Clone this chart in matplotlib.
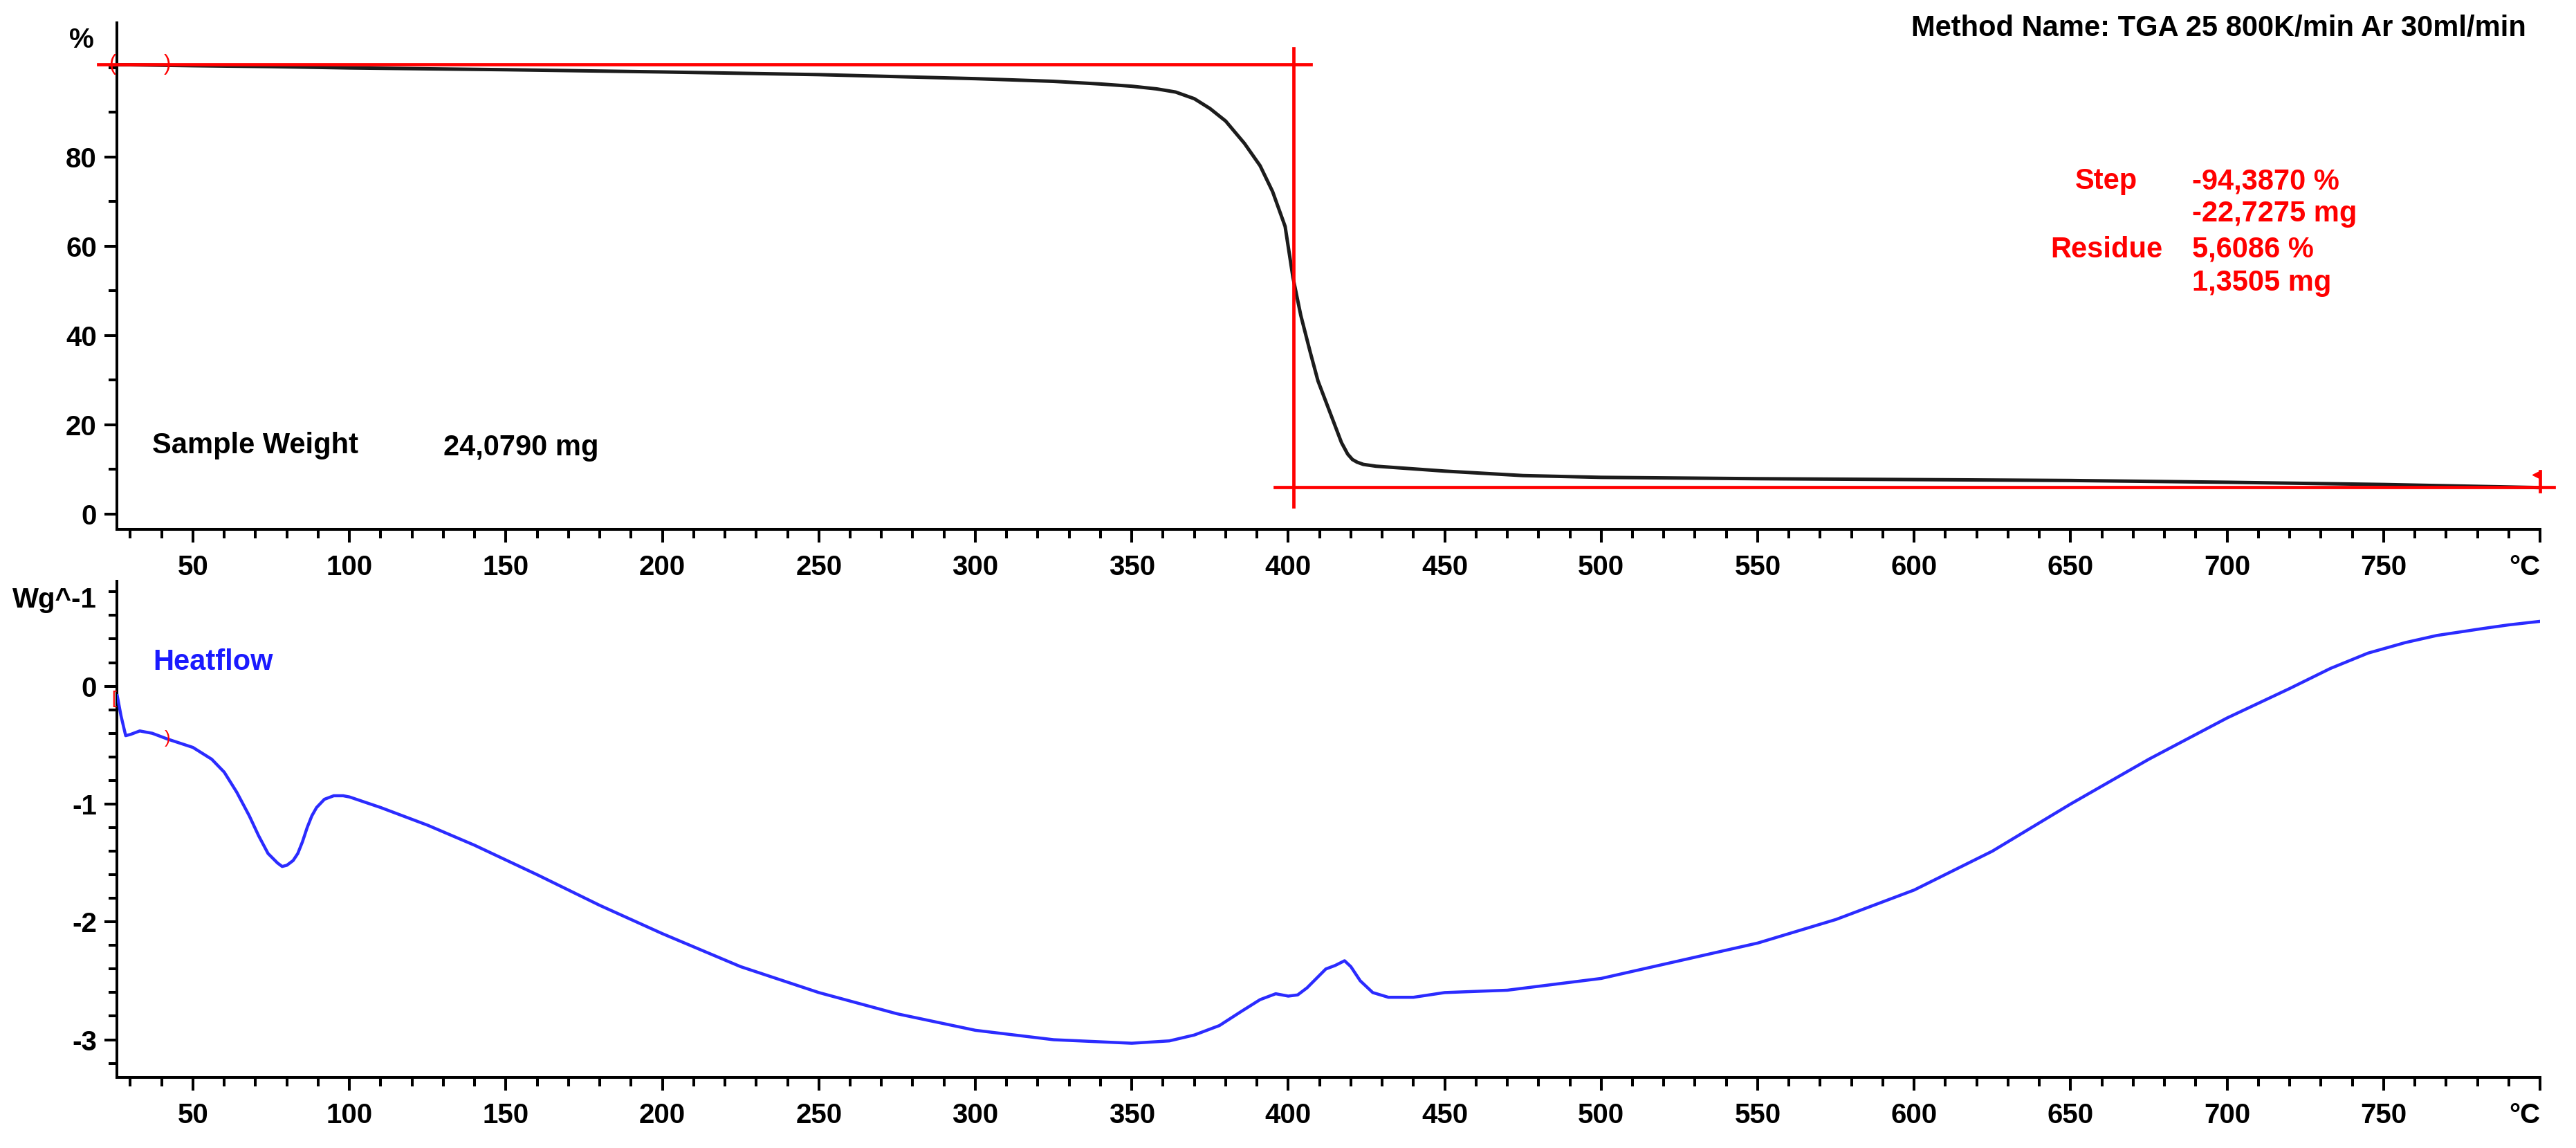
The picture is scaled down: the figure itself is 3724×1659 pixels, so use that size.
import matplotlib
matplotlib.use('Agg')
import matplotlib.pyplot as plt
from matplotlib.ticker import MultipleLocator, FixedLocator

plt.rcParams['font.family'] = ['Liberation Sans', 'DejaVu Sans']
plt.rcParams['axes.unicode_minus'] = False

# TGA weight curve (%)
tga_temp = [25.7, 30, 40, 50, 75, 100, 150, 200, 250, 300, 325, 340, 350, 358, 364,
            370, 375, 380, 386, 391, 395, 399, 401.5, 404, 407, 409.5, 412, 414.5,
            417, 419, 420.5, 422, 424, 428, 438, 450, 475, 500, 550, 600, 650, 700,
            750, 800]
tga_weight = [100.6, 100.6, 100.5, 100.4, 100.2, 99.9, 99.5, 99.0, 98.4, 97.5, 96.9,
              96.3, 95.8, 95.2, 94.5, 93.0, 90.8, 88.0, 83.0, 78.0, 72.2, 64.4, 53.0,
              44.5, 36.3, 29.8, 25.2, 20.6, 16.0, 13.4, 12.2, 11.6, 11.1, 10.7, 10.2,
              9.6, 8.6, 8.2, 7.9, 7.7, 7.5, 7.1, 6.6, 5.9]

# DSC heat flow (W/g)
hf_temp = [25.8, 27.0, 28.5, 30, 33, 37, 42, 50, 56, 60, 64, 68, 71, 74, 77, 78.5,
           80, 82, 83.5, 85, 86.5, 88, 89.5, 92, 95, 98, 100, 110, 125, 140, 160, 180,
           200, 225, 250, 275, 300, 325, 350, 362, 370, 378, 385, 391, 396, 400, 403,
           406, 409, 412, 415, 418, 420, 423, 427, 432, 440, 450, 470, 500, 525, 550,
           575, 600, 625, 650, 675, 700, 720, 733, 745, 757, 767, 782, 790, 800]
hf_value = [-0.08, -0.25, -0.42, -0.41, -0.38, -0.40, -0.45, -0.52, -0.62, -0.73,
            -0.90, -1.10, -1.27, -1.42, -1.50, -1.53, -1.52, -1.48, -1.42, -1.32,
            -1.20, -1.10, -1.03, -0.96, -0.93, -0.93, -0.94, -1.03, -1.18, -1.35,
            -1.60, -1.86, -2.10, -2.38, -2.60, -2.78, -2.92, -3.00, -3.03, -3.01,
            -2.96, -2.88, -2.76, -2.66, -2.61, -2.63, -2.62, -2.56, -2.48, -2.40,
            -2.37, -2.33, -2.38, -2.50, -2.60, -2.64, -2.64, -2.60, -2.58, -2.48,
            -2.33, -2.18, -1.98, -1.73, -1.40, -1.00, -0.62, -0.27, -0.02, 0.15,
            0.28, 0.37, 0.43, 0.49, 0.52, 0.55]

# evaluation lines (step / residue)
step_temp = 401.6
start_level = 100.7
residue_level = 6.0

x_major = [50, 100, 150, 200, 250, 300, 350, 400, 450, 500, 550, 600, 650, 700, 750, 800]
x_labels = ['50', '100', '150', '200', '250', '300', '350', '400', '450', '500',
            '550', '600', '650', '700', '750', '°C']

W, H = 3724, 1659
def fx(px):
    return px / W
def fy(py):
    return 1 - py / H

fig = plt.figure(figsize=(W / 100, H / 100), dpi=100)
ax1 = fig.add_axes([fx(169), fy(765), fx(3672) - fx(169), fy(33) - fy(765)])
ax2 = fig.add_axes([fx(169), fy(1557), fx(3672) - fx(169), fy(840) - fy(1557)])

red = '#ff0000'
for ax in (ax1, ax2):
    ax.spines['top'].set_visible(False)
    ax.spines['right'].set_visible(False)
    ax.spines['left'].set_linewidth(2.9)
    ax.spines['bottom'].set_linewidth(2.9)
    ax.set_xlim(25.7, 800)
    ax.xaxis.set_major_locator(FixedLocator(x_major))
    ax.set_xticklabels(x_labels)
    ax.xaxis.set_minor_locator(MultipleLocator(10))
    ax.tick_params(axis='x', which='major', length=14, width=2.9, pad=12,
                   labelsize=29)
    ax.tick_params(axis='x', which='minor', length=9, width=2.9)
    ax.tick_params(axis='y', which='major', length=13, width=2.9, pad=8,
                   labelsize=29)
    ax.tick_params(axis='y', which='minor', length=9, width=2.9)
    for lab in ax.get_xticklabels() + ax.get_yticklabels():
        lab.set_fontweight('bold')
    ax.get_xticklabels()[-1].set_ha('right')
    ax.patch.set_alpha(0)

# top: TGA
ax1.set_ylim(-3.45, 110)
ax1.yaxis.set_major_locator(FixedLocator([0, 20, 40, 60, 80]))
ax1.yaxis.set_minor_locator(FixedLocator([10, 30, 50, 70, 90, 100]))
ax1.plot(tga_temp, tga_weight, color='#1c1c1c', lw=3.6, zorder=3)
ax1.plot([19.7, 407.3], [start_level, start_level], color=red, lw=3.4, clip_on=False, zorder=4)
ax1.plot([step_temp, step_temp], [1.66, 104.3], color=red, lw=3.4, clip_on=False, zorder=4)
ax1.plot([395.8, 804.4], [residue_level, residue_level], color=red, lw=3.4, clip_on=False, zorder=4)
ax1.text(24.2, start_level, '(', color=red, fontsize=22, ha='center', va='center')
ax1.text(41.8, start_level, ')', color=red, fontsize=22, ha='center', va='center')
ax1.plot([800, 800], [5.0, 9.5], color=red, lw=3.4, clip_on=False, zorder=5)
ax1.plot([799], [8.8], marker='<', color=red, ms=9, clip_on=False, zorder=5)

# bottom: heat flow
ax2.set_ylim(-3.32, 0.89)
ax2.yaxis.set_major_locator(FixedLocator([-3, -2, -1, 0]))
ax2.yaxis.set_minor_locator(FixedLocator([-3.2, -2.8, -2.6, -2.4, -2.2, -1.8, -1.6, -1.4,
                                           -1.2, -0.8, -0.6, -0.4, -0.2, 0.2, 0.4, 0.6, 0.8]))
ax2.plot(hf_temp, hf_value, color='#2b2bff', lw=3.2, zorder=3)
ax2.text(24.8, -0.11, '[', color=red, fontsize=18, ha='center', va='center')
ax2.text(41.8, -0.44, ')', color=red, fontsize=18, ha='center', va='center')

# axis unit labels and annotations
fig.text(fx(118), fy(58), '%', fontsize=29, fontweight='bold', ha='center', va='center')
fig.text(fx(140), fy(867), 'Wg^-1', fontsize=29, fontweight='bold', ha='right', va='center')
fig.text(fx(220), fy(655), 'Sample Weight', fontsize=30, fontweight='bold', va='baseline')
fig.text(fx(641), fy(658), '24,0790 mg', fontsize=30, fontweight='bold', va='baseline')
fig.text(fx(221), fy(968), 'Heatflow', fontsize=30, fontweight='bold', color='#1a1aff',
         va='baseline')
fig.text(fx(3652), fy(52), 'Method Name: TGA 25 800K/min Ar 30ml/min', fontsize=30,
         fontweight='bold', ha='right', va='baseline')

rows = [('Step', '-94,3870 %', 273), ('', '-22,7275 mg', 320),
        ('Residue', '5,6086 %', 372), ('', '1,3505 mg', 420)]
for name, val, base in rows:
    if name:
        fig.text(fx(3045), fy(base), name, fontsize=30, fontweight='bold', color=red,
                 ha='center', va='baseline')
    fig.text(fx(3169), fy(base), val, fontsize=30, fontweight='bold', color=red,
             ha='left', va='baseline')

fig.savefig('out.png', dpi=100, facecolor='white')
